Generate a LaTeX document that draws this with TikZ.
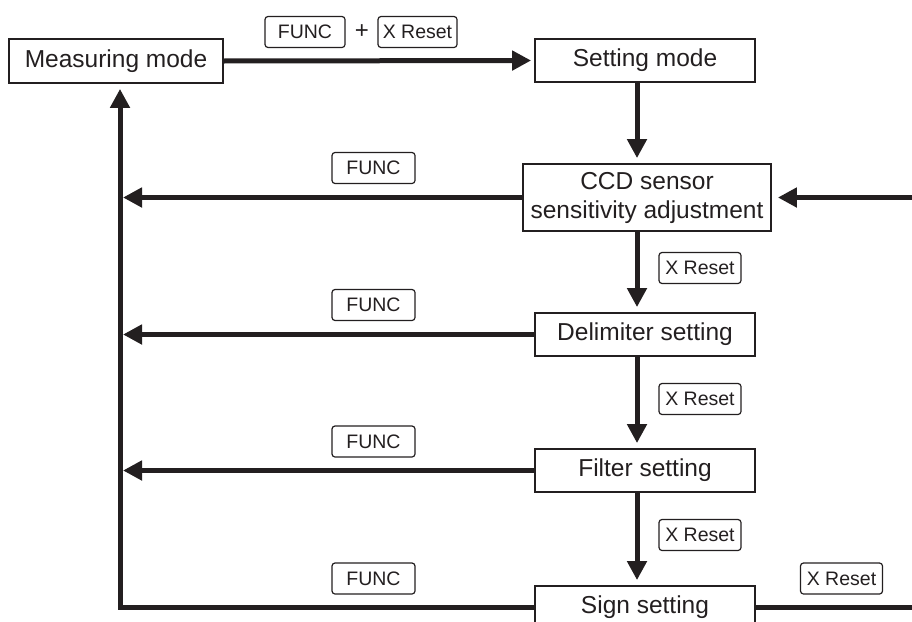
\documentclass[tikz,border=0pt]{standalone}
\usepackage{fontspec}
\setmainfont{Liberation Sans}
\usetikzlibrary{arrows.meta}
\definecolor{ink}{HTML}{231F20}
\tikzset{
  modebox/.style={draw=ink, line width=1.8pt, inner sep=0pt, align=center,
    text=ink, font=\fontsize{24.5}{29}\selectfont},
  keybox/.style={draw=ink, line width=1.2pt, rounded corners=3pt, inner sep=0pt,
    minimum width=82pt, minimum height=31pt, text=ink, font=\fontsize{19.5}{22}\selectfont},
  arr/.style={draw=ink, line width=5pt, -{Triangle[length=19pt,width=19pt]}},
}
\begin{document}
\begin{tikzpicture}[x=1pt,y=-1pt]
\useasboundingbox (0,0) rectangle (912,621);
\clip (0,0) rectangle (912,621);
% mode boxes
\node[modebox, minimum width=214pt, minimum height=44pt] (meas) at (116,61) {Measuring mode};
\node[modebox, minimum width=220pt, minimum height=43pt] (set) at (645,60.5) {Setting mode};
\node[modebox, minimum width=248pt, minimum height=67pt] (ccd) at (647,197.5) {CCD sensor\\sensitivity adjustment};
\node[modebox, minimum width=220pt, minimum height=43pt] (delim) at (645,334.5) {Delimiter setting};
\node[modebox, minimum width=220pt, minimum height=43pt] (filter) at (645,470.5) {Filter setting};
\node[modebox, minimum width=220pt, minimum height=43pt] (sign) at (645,607.5) {Sign setting};
% helper coordinates
\coordinate (X) at (637,0);
\coordinate (L) at (120,607);
\coordinate (R) at (935,607);
% top keys
\node[keybox, minimum width=80pt] (k0) at (305,32) {FUNC};
\node[text=ink, font=\fontsize{24}{28}\selectfont] (plus) at (362,32) {+};
\node[keybox, minimum width=79pt] (k1) at (417.5,32) {X Reset};
% side keys
\node[keybox, minimum width=83pt] (f1) at (373.5,168) {FUNC};
\node[keybox, minimum width=83pt] (f2) at (373.5,305) {FUNC};
\node[keybox, minimum width=83pt] (f3) at (373.5,441.5) {FUNC};
\node[keybox, minimum width=83pt] (f4) at (373.5,578.5) {FUNC};
\node[keybox] (x1) at (700,268) {X Reset};
\node[keybox] (x2) at (700,399) {X Reset};
\node[keybox] (x3) at (700,535) {X Reset};
\node[keybox] (x4) at (841.5,578.5) {X Reset};
% connectors
\draw[arr, shorten >=3pt] (meas.east) -- (set.west);
\draw[arr, shorten >=5pt] (set.south -| X) -- (ccd.north -| X);
\draw[arr, shorten >=5pt] (ccd.south -| X) -- (delim.north -| X);
\draw[arr, shorten >=5pt] (delim.south -| X) -- (filter.north -| X);
\draw[arr, shorten >=5pt] (filter.south -| X) -- (sign.north -| X);
\draw[arr, shorten >=3pt] (ccd.west) -- (ccd.west -| L);
\draw[arr, shorten >=3pt] (delim.west) -- (delim.west -| L);
\draw[arr, shorten >=3pt] (filter.west) -- (filter.west -| L);
\draw[arr, shorten >=5pt, line join=miter] (sign.west |- L) -- (L) -- (L |- meas.south);
\draw[arr, shorten >=6pt, line join=miter] (sign.east |- R) -- (R) -- (R |- ccd.east) -- (ccd.east);
\end{tikzpicture}
\end{document}
